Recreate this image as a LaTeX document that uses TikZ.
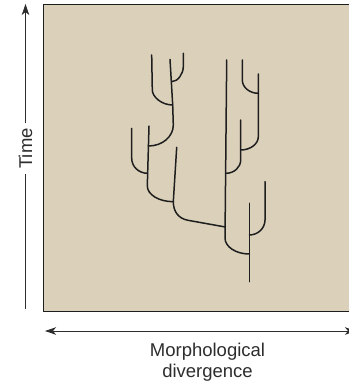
\documentclass[tikz,border=0pt]{standalone}
\usepackage{fontspec}
\setmainfont{Liberation Sans}
\usetikzlibrary{arrows.meta}
\definecolor{panel}{RGB}{219,209,187}
\definecolor{ink}{RGB}{30,30,30}
\definecolor{axis}{RGB}{45,45,45}
\tikzset{
  branch/.style={draw=ink, line width=1.5pt, line cap=round, line join=round},
  axisarrow/.style={draw=axis, line width=0.9pt, -{Stealth[length=11pt,width=7.5pt,inset=3pt]}},
  axislabel/.style={font=\fontsize{18.5}{21}\selectfont, text=axis}
}
\begin{document}
\begin{tikzpicture}[x=1pt,y=-1pt]
\useasboundingbox (0,0) rectangle (348,385);
% panel
\draw[fill=panel, draw=ink, line width=0.9pt] (43.7,4.2) rectangle (360,311.5);
% axes
\coordinate (vbot) at (25.5,309);
\coordinate (vtop) at (25.5,4);
\draw[axisarrow] (vbot) -- (vtop);
\node[axislabel, rotate=90, fill=white, inner xsep=5pt, inner ysep=1pt] (time) at (25.5,148.5) {Time};
\coordinate (hleft) at (45,331);
\coordinate (hright) at (356,331);
\draw[axisarrow, {Stealth[length=11pt,width=7.5pt,inset=3pt]}-{Stealth[length=11pt,width=7.5pt,inset=3pt]}] (hleft) -- (hright);
\node[axislabel, align=center, anchor=base] (xlab) at (207.5,377.5) {Morphological\\divergence};
% right tree
\coordinate (R0) at (249.3,281.7);
\coordinate (R1) at (249.3,254);
\coordinate (R2) at (249.3,235);
\coordinate (Rtop) at (249.3,203.3);
\draw[branch] (R0) -- (Rtop);
\draw[branch] (R1) .. controls (235.9,254) and (225,246.8) .. (225,238) -- (226.7,60);
\draw[branch] (R2) .. controls (257.9,235) and (265,228.3) .. (265,220) -- (265,181.7);
\coordinate (J1) at (226,173.3);
\draw[branch] (J1) .. controls (234.1,173.3) and (240.7,167.3) .. (240.7,160) -- (240.7,120);
\coordinate (J2) at (240.7,150);
\draw[branch] (J2) .. controls (250.4,150) and (258.3,144) .. (258.3,136.7) -- (258.3,74);
\coordinate (J3) at (258.3,93.3);
\draw[branch] (J3) .. controls (249.5,93.3) and (242.3,87.3) .. (242.3,80) -- (242.3,60);
% connector between the two trees
\coordinate (C0) at (225.4,227);
\coordinate (N1) at (173.3,201.7);
\draw[branch] (C0) -- (188,220.3) .. controls (178,218.5) and (173.3,211) .. (N1);
% left tree
\draw[branch] (N1) -- (176.7,147.3);
\draw[branch] (N1) .. controls (159,201.7) and (147.3,194.6) .. (147.3,186) -- (149,126);
\coordinate (L1) at (147.6,173.3);
\draw[branch] (L1) .. controls (138.7,173.3) and (131.7,166.6) .. (131.7,158.3) -- (131.7,128.3);
\coordinate (L2) at (148.4,146);
\coordinate (N2) at (172.7,105);
\draw[branch] (L2) .. controls (162.4,146) and (173.3,136.6) .. (173.3,125) -- (N2);
\draw[branch] (N2) .. controls (161.5,105) and (152.3,96.75) .. (152.3,90) -- (151.7,55);
\draw[branch] (N2) -- (170,59.3);
\coordinate (L3) at (171.6,81.7);
\draw[branch] (L3) .. controls (178.1,81.7) and (183.3,73.4) .. (183.3,66.7) -- (183.3,53.3);
\end{tikzpicture}
\end{document}
